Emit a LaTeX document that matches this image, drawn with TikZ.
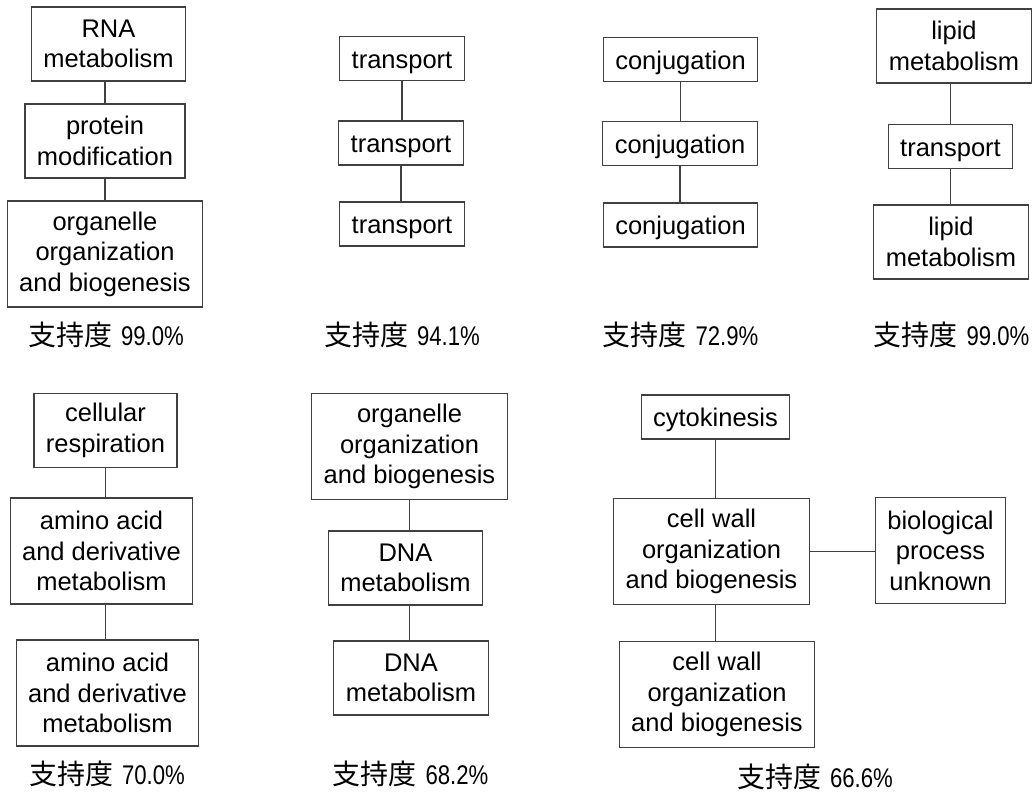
\documentclass[tikz,border=0pt]{standalone}
\usepackage{fontspec}
\setmainfont{Liberation Sans}
\newfontfamily\cjkfont{Noto Sans CJK JP}
\newfontfamily\numfont[FakeStretch=0.82]{Liberation Sans}

\begin{document}
\begin{tikzpicture}[x=1pt, y=-1pt,
  box/.style={draw=black!75, line width=1.1pt, inner xsep=12pt, inner ysep=0pt, font=\fontsize{25.5}{30.5}\selectfont},
  one/.style={box, minimum height=44pt, text height=23pt, text depth=4pt},
  two/.style={box, align=center, minimum height=74pt},
  three/.style={box, align=center, minimum height=106pt},
  link/.style={draw=black!75, line width=1.1pt},
  support/.style={inner sep=0pt, font=\fontsize{27}{30}\numfont}]
\useasboundingbox[fill=white] (0,0) rectangle (1035,795);

% first row
\node[two] (rna) at (108.5,44) {RNA\\metabolism};
\node[two] (prot) at (105,141) {protein\\modification};
\node[three] (org) at (105,254) {organelle\\organization\\and biogenesis};
\draw[link] (rna.south -| prot) -- (prot.north);
\draw[link] (prot.south) -- (org.north);
\node[support] (s1) at (106,335) {{\fontsize{28}{30}\cjkfont 支持度}\hspace{9pt}99.0\%};

\node[one] (tra) at (402,58.5) {transport};
\node[one] (trb) at (401,143) {transport};
\node[one] (trc) at (402,224) {transport};
\draw[link] (tra.south) -- (tra.south |- trb.north);
\draw[link] (trb.south) -- (trb.south |- trc.north);
\node[support] (s2) at (402,335) {{\fontsize{28}{30}\cjkfont 支持度}\hspace{9pt}94.1\%};

\node[one] (cja) at (680.5,59.5) {conjugation};
\node[one] (cjb) at (680,143.5) {conjugation};
\node[one] (cjc) at (680.5,225) {conjugation};
\draw[link] (cja.south) -- (cja.south |- cjb.north);
\draw[link] (cjb.south) -- (cjb.south |- cjc.north);
\node[support] (s3) at (680.5,335) {{\fontsize{28}{30}\cjkfont 支持度}\hspace{9pt}72.9\%};

\node[two] (lpa) at (954,46) {lipid\\metabolism};
\node[one] (trd) at (950.5,146.5) {transport};
\node[two] (lpb) at (951,242) {lipid\\metabolism};
\draw[link] (lpa.south -| trd) -- (trd.north);
\draw[link] (trd.south) -- (trd.south |- lpb.north);
\node[support] (s4) at (951.5,335) {{\fontsize{28}{30}\cjkfont 支持度}\hspace{9pt}99.0\%};

% second row
\node[two] (resp) at (105.5,430.5) {cellular\\respiration};
\node[three] (ama) at (101.5,551) {amino acid\\and derivative\\metabolism};
\node[three] (amb) at (107.5,693) {amino acid\\and derivative\\metabolism};
\draw[link] (resp.south) -- (resp.south |- ama.north);
\draw[link] (ama.south -| resp) -- (resp |- amb.north);
\node[support] (s5) at (107,774) {{\fontsize{28}{30}\cjkfont 支持度}\hspace{9pt}70.0\%};

\node[three] (orgb) at (409.5,446.5) {organelle\\organization\\and biogenesis};
\node[two] (dna) at (405.5,568) {DNA\\metabolism};
\node[two] (dnb) at (411,678) {DNA\\metabolism};
\draw[link] (orgb.south) -- (orgb.south |- dna.north);
\draw[link] (dna.south -| orgb) -- (orgb |- dnb.north);
\node[support] (s6) at (410.5,774) {{\fontsize{28}{30}\cjkfont 支持度}\hspace{9pt}68.2\%};

\node[one] (cyto) at (715.5,417) {cytokinesis};
\node[three] (cwa) at (711.5,551.5) {cell wall\\organization\\and biogenesis};
\node[three] (bio) at (940.5,550.5) {biological\\process\\unknown};
\node[three] (cwb) at (717,694.5) {cell wall\\organization\\and biogenesis};
\draw[link] (cyto.south) -- (cyto.south |- cwa.north);
\draw[link] (cwa.south -| cyto) -- (cyto |- cwb.north);
\draw[link] (cwa.east) -- (cwa.east -| bio.west);
\node[support] (s7) at (815,777) {{\fontsize{28}{30}\cjkfont 支持度}\hspace{9pt}66.6\%};
\end{tikzpicture}
\end{document}
